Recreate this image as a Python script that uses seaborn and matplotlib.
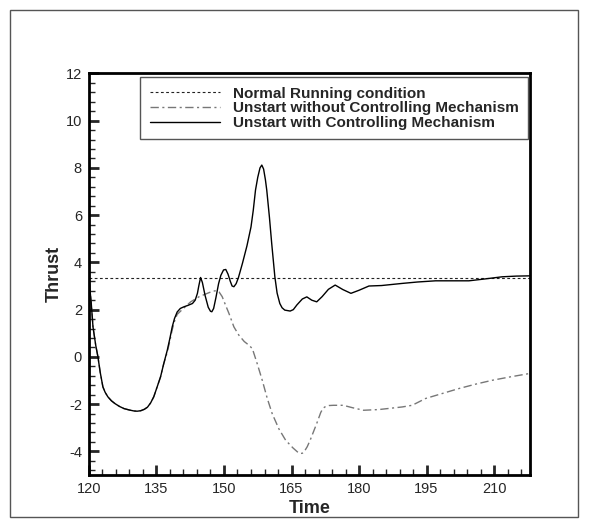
import matplotlib.pyplot as plt
import matplotlib.ticker as mticker
import pandas as pd
import seaborn as sns

# normal running condition (constant thrust)
normal_time = [120, 218]
normal_thrust = [3.35, 3.35]

# unstart with controlling mechanism
ctrl_time = [120.0, 120.5, 120.9, 121.5, 122.0, 122.5, 123.1, 123.6, 124.2, 125.0, 125.8, 126.8,
             127.8, 129.0, 130.0, 130.7, 131.5, 132.3, 133.0, 133.7, 134.4, 135.1, 135.9, 136.6,
             137.4, 138.0, 138.5, 139.0, 139.6, 140.3, 141.1, 142.0, 143.0, 143.6, 144.1, 144.4,
             144.8, 145.2, 145.8, 146.5, 147.0, 147.3, 147.7, 148.2, 148.8, 149.3, 149.9, 150.4,
             150.9, 151.4, 151.8, 152.2, 152.7, 153.2, 154.1, 155.1, 156.0, 156.5, 157.0, 157.5,
             158.0, 158.4, 158.8, 159.2, 159.5, 160.1, 160.6, 161.3, 161.8, 162.4, 162.9, 163.5,
             164.7, 165.4, 166.2, 167.4, 168.4, 169.5, 170.6, 171.8, 173.2, 174.7, 176.4, 178.2,
             180.0, 182.2, 185.0, 189.6, 193.0, 197.0, 201.0, 204.4, 208.0, 211.8, 215.0, 218.0]
ctrl_thrust = [3.3, 2.3, 1.27, 0.5, 0.0, -0.65, -1.27, -1.5, -1.69, -1.86, -1.98, -2.1,
               -2.19, -2.25, -2.29, -2.3, -2.28, -2.22, -2.13, -1.95, -1.69, -1.3, -0.85, -0.3,
               0.28, 0.8, 1.27, 1.62, 1.9, 2.05, 2.12, 2.18, 2.26, 2.4, 2.69, 3.0,
               3.36, 3.15, 2.6, 2.1, 1.93, 1.91, 2.05, 2.5, 3.1, 3.45, 3.68, 3.7,
               3.5, 3.2, 3.0, 2.97, 3.1, 3.35, 3.96, 4.7, 5.5, 6.2, 7.06, 7.6,
               8.0, 8.12, 7.95, 7.5, 7.06, 5.9, 4.8, 3.39, 2.7, 2.26, 2.08, 1.98,
               1.94, 2.0, 2.2, 2.45, 2.54, 2.4, 2.33, 2.55, 2.86, 3.04, 2.85, 2.69,
               2.82, 3.0, 3.02, 3.11, 3.17, 3.22, 3.22, 3.22, 3.3, 3.39, 3.42, 3.43]

# unstart without controlling mechanism
unc_time = [120.0, 120.5, 120.9, 121.5, 122.0, 122.5, 123.1, 123.6, 124.2, 125.0, 125.8, 126.8,
            127.8, 129.0, 130.0, 130.7, 131.5, 132.3, 133.0, 133.7, 134.4, 135.1, 135.9, 136.6,
            137.4, 138.0, 138.5, 139.0, 139.6, 141.0, 142.6, 144.5, 146.3, 147.5, 148.2, 148.9,
            149.6, 150.2, 151.1, 152.2, 153.3, 154.5, 155.5, 156.3, 157.4, 158.5, 159.6, 160.7,
            162.2, 163.7, 165.3, 166.3, 166.9, 167.4, 167.8, 168.5, 169.2, 170.6, 171.5, 172.0,
            172.4, 173.3, 174.3, 176.5, 178.5, 181.0, 184.4, 189.6, 191.8, 194.8, 198.5, 202.2,
            206.0, 209.6, 213.5, 218.0]
unc_thrust = [3.3, 2.3, 1.27, 0.5, 0.0, -0.65, -1.27, -1.5, -1.69, -1.86, -1.98, -2.1,
              -2.19, -2.25, -2.29, -2.3, -2.28, -2.22, -2.13, -1.95, -1.69, -1.3, -0.85, -0.3,
              0.2, 0.7, 1.15, 1.5, 1.8, 2.05, 2.33, 2.55, 2.69, 2.78, 2.8, 2.75,
              2.55, 2.26, 1.84, 1.27, 0.92, 0.65, 0.5, 0.35, -0.3, -0.99, -1.75, -2.4,
              -3.05, -3.53, -3.85, -4.02, -4.09, -4.08, -4.02, -3.8, -3.5, -2.82, -2.35, -2.18,
              -2.12, -2.06, -2.05, -2.05, -2.15, -2.26, -2.23, -2.12, -2.05, -1.76, -1.55, -1.34,
              -1.15, -0.99, -0.85, -0.7]

df_norm = pd.DataFrame({"Time": normal_time, "Thrust": normal_thrust})
df_ctrl = pd.DataFrame({"Time": ctrl_time, "Thrust": ctrl_thrust})
df_unc = pd.DataFrame({"Time": unc_time, "Thrust": unc_thrust})

sns.set_style("white")
plt.rcParams['font.family'] = ['Liberation Sans', 'DejaVu Sans']
plt.rcParams['axes.unicode_minus'] = False

fig = plt.figure(figsize=(5.89, 5.27), dpi=100)
ax = fig.add_axes([0.151, 0.0987, 0.749, 0.762])

sns.lineplot(df_norm, x="Time", y="Thrust", ax=ax, color="#222222", lw=0.8,
             linestyle=(0, (2.5, 2.2)), label="Normal Running condition")
sns.lineplot(df_unc, x="Time", y="Thrust", ax=ax, color="#777777", lw=1.0, sort=False,
             linestyle=(0, (6, 2.5, 1.5, 2.5)), label="Unstart without Controlling Mechanism")
sns.lineplot(df_ctrl, x="Time", y="Thrust", ax=ax, color="black", lw=1.0, sort=False,
             label="Unstart with Controlling Mechanism")

ax.set_xlim(120, 218)
ax.set_ylim(-5, 12)
ax.xaxis.set_major_locator(mticker.MultipleLocator(15))
ax.xaxis.set_minor_locator(mticker.MultipleLocator(3))
ax.yaxis.set_major_locator(mticker.MultipleLocator(2))
ax.yaxis.set_minor_locator(mticker.MultipleLocator(0.4))
ax.tick_params(which="major", direction="in", length=7, width=2, labelsize=10.5, pad=5,
               bottom=True, left=True, top=False, right=False)
ax.tick_params(which="minor", direction="in", length=4, width=1,
               bottom=True, left=True, top=False, right=False)
for s in ax.spines.values():
    s.set_linewidth(2)
    s.set_color("black")

ax.set_xlabel("Time", fontsize=13, fontweight="bold", labelpad=3)
ax.set_ylabel("Thrust", fontsize=13, fontweight="bold", labelpad=2)

leg = ax.legend(loc="upper right", bbox_to_anchor=(0.995, 0.99),
                prop={"weight": "bold", "size": 11}, handlelength=4.6, handletextpad=0.85,
                labelspacing=0.05, borderpad=0.6, fancybox=False, framealpha=1,
                edgecolor="#555555", borderaxespad=0)
leg.get_frame().set_linewidth(1)

# outer frame round the whole picture
fig.patches.append(plt.Rectangle((10 / 589, 10 / 527), 568 / 589, 507 / 527,
                                 transform=fig.transFigure, fill=False,
                                 edgecolor="#555555", lw=1))

plt.savefig("out.png", dpi=100)
